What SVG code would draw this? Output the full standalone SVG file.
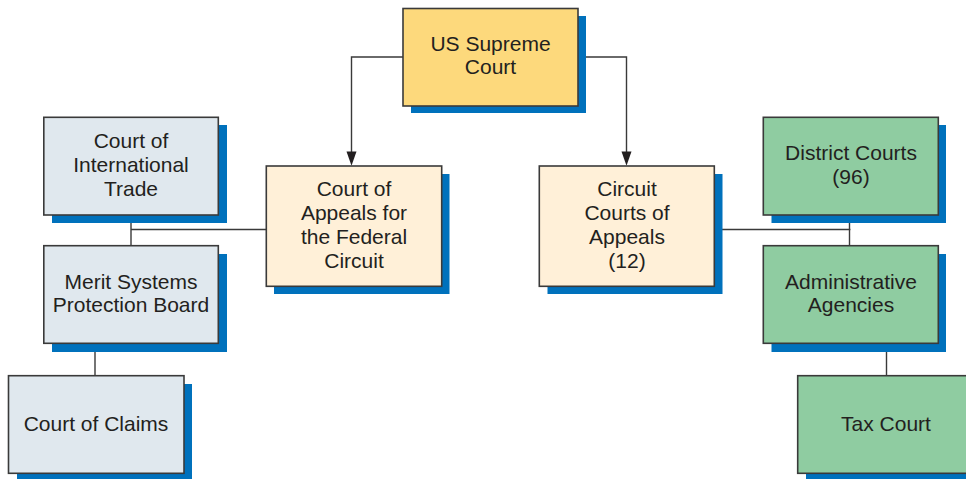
<svg xmlns="http://www.w3.org/2000/svg" width="966" height="479" viewBox="0 0 966 479">
  <style>
    .shadow { fill: #0071bc; }
    .box { stroke: #3a3a3a; stroke-width: 1.6; }
    .top { fill: #fdd97c; }
    .appeal { fill: #fff0d8; }
    .fed { fill: #e0e8ee; }
    .state { fill: #8fcca1; }
    .label { font-family: "Liberation Sans", Arial, sans-serif; font-size: 21px; fill: #231f20; text-anchor: middle; }
    .conn { fill: none; stroke: #3a3a3a; stroke-width: 1.4; }
  </style>
  <defs>
    <marker id="arrow" viewBox="0 0 10 14" refX="5" refY="14" markerWidth="10" markerHeight="14" markerUnits="userSpaceOnUse" orient="auto-start-reverse">
      <path d="M0,0 L10,0 L5,14 Z" fill="#231f20"/>
    </marker>
  </defs>

  <!-- connectors -->
  <g id="connectors">
    <path class="conn" d="M403,57 H351.5 V152"/>
    <path class="conn" d="M578,57 H626.5 V152"/>
    <path d="M346.5,151.5 L356.5,151.5 L351.5,165.7 Z" fill="#231f20"/>
    <path d="M621.5,151.5 L631.5,151.5 L626.5,165.7 Z" fill="#231f20"/>
    <path class="conn" d="M131,215 V246 M131,229.5 H266"/>
    <path class="conn" d="M95,343 V376"/>
    <path class="conn" d="M714,229.5 H850.5 M849.5,215 V246"/>
    <path class="conn" d="M886.5,343 V376"/>
  </g>

  <g id="supreme-court">
    <rect class="shadow" x="411" y="16" width="175" height="97"/>
    <rect class="box top" x="403" y="8.5" width="175" height="97.5"/>
    <text class="label" x="490.5" y="50.7">US Supreme</text>
    <text class="label" x="490.5" y="74.2">Court</text>
  </g>

  <g id="international-trade">
    <rect class="shadow" x="52" y="125" width="175" height="98"/>
    <rect class="box fed" x="43.8" y="117.3" width="174.5" height="97.7"/>
    <text class="label" x="131" y="147.7">Court of</text>
    <text class="label" x="131" y="171.7">International</text>
    <text class="label" x="131" y="195.8">Trade</text>
  </g>

  <g id="merit-systems">
    <rect class="shadow" x="52" y="254" width="175" height="98"/>
    <rect class="box fed" x="43.8" y="245.7" width="174.5" height="97.6"/>
    <text class="label" x="131" y="289">Merit Systems</text>
    <text class="label" x="131" y="312.3">Protection Board</text>
  </g>

  <g id="court-of-claims">
    <rect class="shadow" x="17" y="384" width="175" height="98"/>
    <rect class="box fed" x="8.5" y="375.7" width="175.5" height="97.6"/>
    <text class="label" x="96" y="430.7">Court of Claims</text>
  </g>

  <g id="federal-circuit">
    <rect class="shadow" x="274" y="174" width="175.5" height="120"/>
    <rect class="box appeal" x="266.3" y="166" width="175.4" height="120.3"/>
    <text class="label" x="354" y="196">Court of</text>
    <text class="label" x="354" y="220">Appeals for</text>
    <text class="label" x="354" y="244">the Federal</text>
    <text class="label" x="354" y="267.5">Circuit</text>
  </g>

  <g id="circuit-courts">
    <rect class="shadow" x="547.5" y="174" width="175" height="120"/>
    <rect class="box appeal" x="539.3" y="166" width="175" height="120.3"/>
    <text class="label" x="627" y="196">Circuit</text>
    <text class="label" x="627" y="220">Courts of</text>
    <text class="label" x="627" y="244">Appeals</text>
    <text class="label" x="627" y="267.5">(12)</text>
  </g>

  <g id="district-courts">
    <rect class="shadow" x="771.5" y="125" width="174.5" height="98"/>
    <rect class="box state" x="763.3" y="117.3" width="175" height="97.7"/>
    <text class="label" x="851" y="160">District Courts</text>
    <text class="label" x="851" y="184">(96)</text>
  </g>

  <g id="administrative-agencies">
    <rect class="shadow" x="771.5" y="254" width="174.5" height="98"/>
    <rect class="box state" x="763.3" y="245.7" width="175" height="97.6"/>
    <text class="label" x="851" y="289.3">Administrative</text>
    <text class="label" x="851" y="312.3">Agencies</text>
  </g>

  <g id="tax-court">
    <rect class="shadow" x="806" y="384" width="175" height="98"/>
    <rect class="box state" x="797.7" y="375.7" width="175" height="97.6"/>
    <text class="label" x="886" y="430.7">Tax Court</text>
  </g>
</svg>
